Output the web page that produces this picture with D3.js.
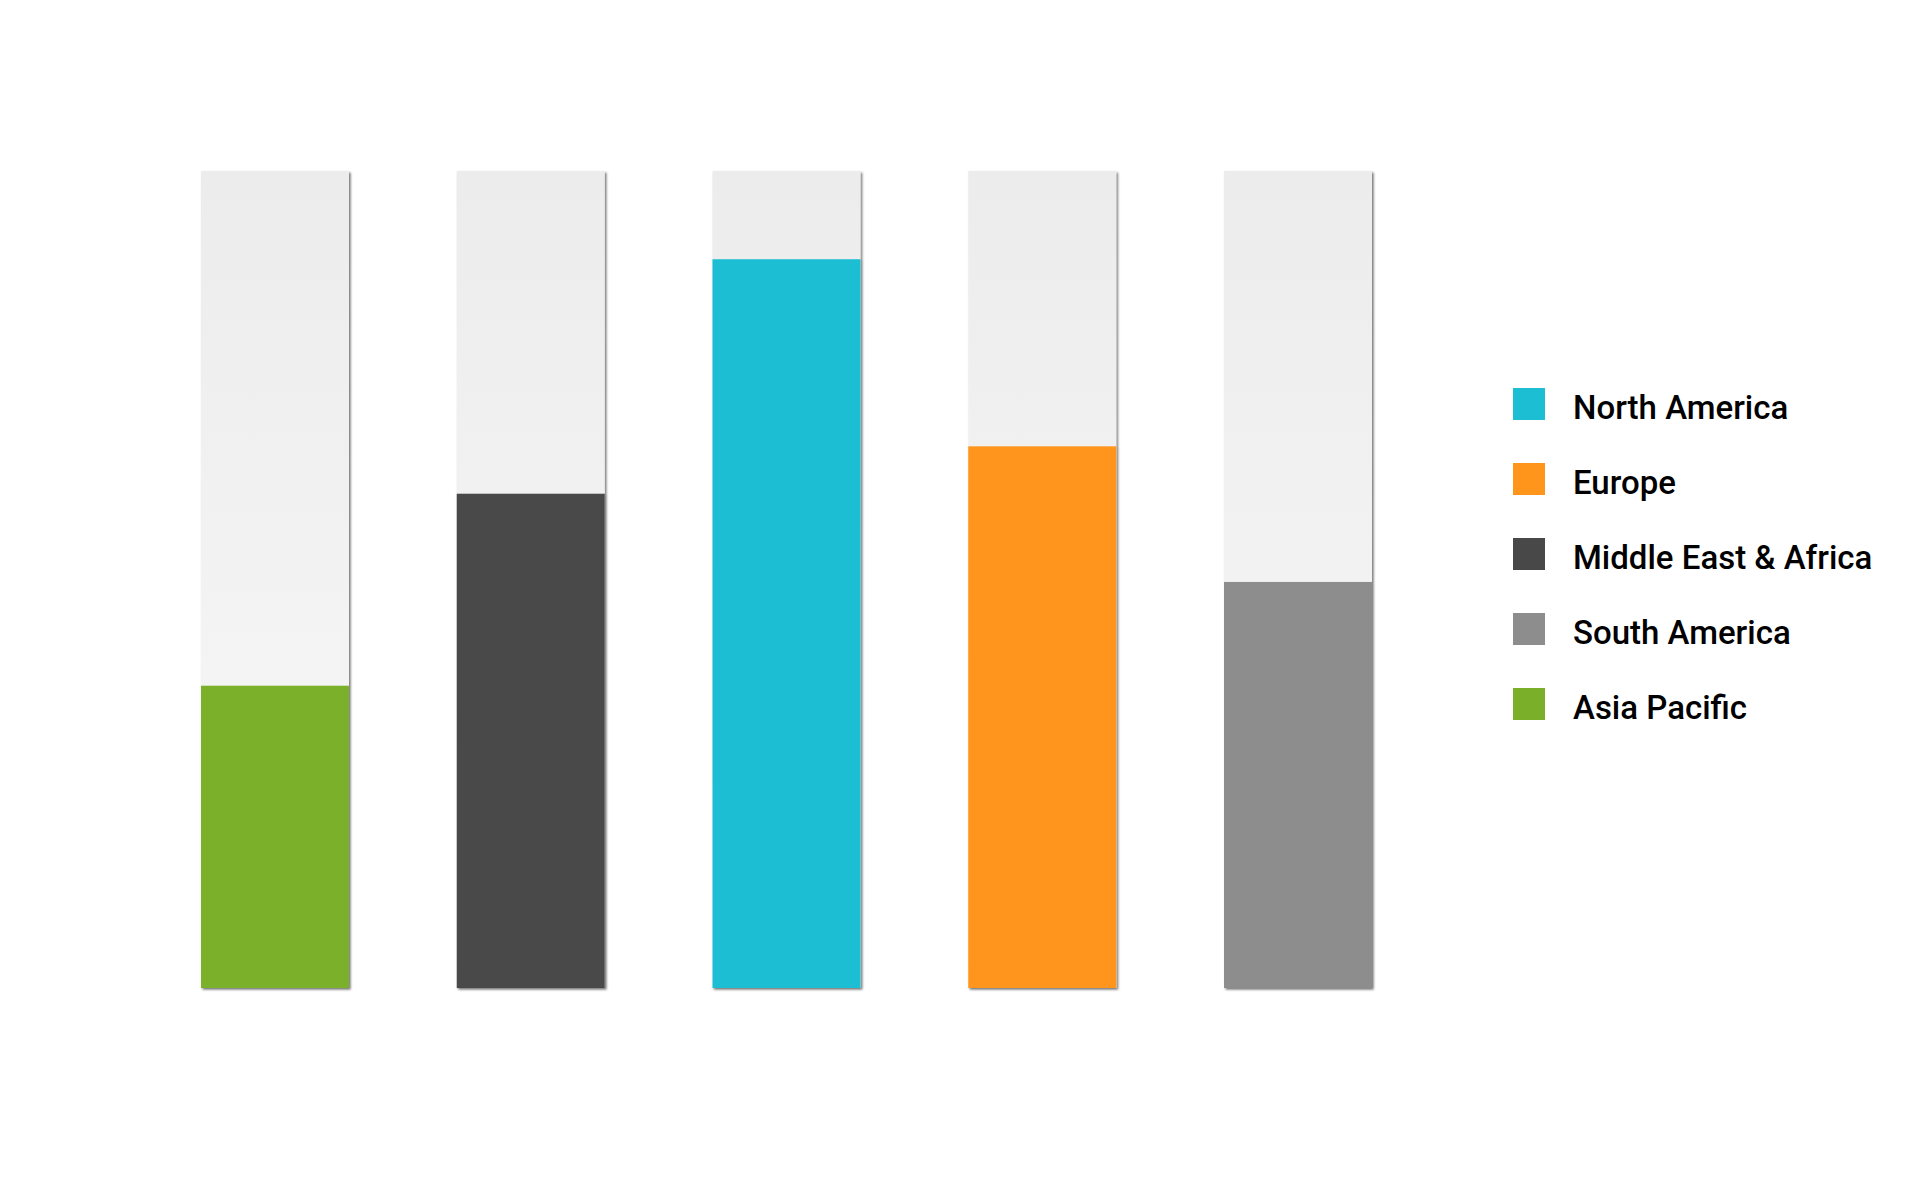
<!DOCTYPE html>
<html>
<head>
<meta charset="utf-8">
<script src="https://cdn.jsdelivr.net/npm/d3@7"></script>
<style>
  body { margin: 0; background: #fff; }
  svg { display: block; }
  .legend-label { font-family: Roboto, "Noto Sans", sans-serif; font-size: 33px; font-weight: 500; fill: #000; }
</style>
</head>
<body>
<div id="chart"></div>
<script>
// data //
const regions = ['Asia Pacific', 'Middle East & Africa', 'North America', 'Europe', 'South America']
const shares = [37, 60.5, 89.2, 66.3, 49.7]
const legendOrder = ['North America', 'Europe', 'Middle East & Africa', 'South America', 'Asia Pacific']
const regionColors = ['#7ab029', '#484848', '#1bbed3', '#ff951a', '#8d8d8d']

// svg //
const width = 1920
const height = 1200
const plot = { left: 201, right: 1372, top: 171, bottom: 988 }
const barWidth = 148
const legendX = 1513
const legendTop = 388
const legendStep = 75
const legendSize = 32
const legendTextOffset = 60

const svg = d3.select('#chart').append('svg')
  .attr('width', width)
  .attr('height', height)

const defs = svg.append('defs')

const grad = defs.append('linearGradient')
  .attr('id', 'track')
  .attr('x1', 0).attr('y1', 0)
  .attr('x2', 0).attr('y2', 1)
grad.append('stop').attr('offset', '0%').attr('stop-color', '#ececec')
grad.append('stop').attr('offset', '100%').attr('stop-color', '#f9f9f9')

const shadow = defs.append('filter')
  .attr('id', 'shadow')
  .attr('x', '-5%').attr('y', '-5%')
  .attr('width', '115%').attr('height', '115%')
shadow.append('feDropShadow')
  .attr('dx', 1.6)
  .attr('dy', 1.6)
  .attr('stdDeviation', 0.9)
  .attr('flood-color', '#000')
  .attr('flood-opacity', 0.55)

const x = d3.scalePoint()
  .domain(regions)
  .range([plot.left, plot.right - barWidth])

const y = d3.scaleLinear()
  .domain([0, 100])
  .range([plot.bottom, plot.top])

const color = d3.scaleOrdinal()
  .domain(regions)
  .range(regionColors)

const data = regions.map((r, i) => ({ region: r, value: shares[i] }))

// bars //
const bar = svg.append('g')
  .selectAll('g')
  .data(data)
  .enter()
  .append('g')
  .attr('transform', d => `translate(${x(d.region)}, 0)`)
  .attr('filter', 'url(#shadow)')

bar.append('rect')
  .attr('class', 'track')
  .attr('width', barWidth)
  .attr('y', y(100))
  .attr('height', y(0) - y(100))
  .attr('fill', 'url(#track)')

bar.append('rect')
  .attr('class', 'value')
  .attr('width', barWidth)
  .attr('y', d => y(d.value))
  .attr('height', d => y(0) - y(d.value))
  .attr('fill', d => color(d.region))

// legend //
const ly = d3.scalePoint()
  .domain(legendOrder)
  .range([legendTop, legendTop + legendStep * (legendOrder.length - 1)])

const legend = svg.append('g')
  .attr('id', 'legend')

const item = legend.selectAll('g')
  .data(legendOrder)
  .enter()
  .append('g')
  .attr('transform', d => `translate(${legendX}, ${ly(d)})`)

item.append('rect')
  .attr('width', legendSize)
  .attr('height', legendSize)
  .attr('fill', d => color(d))

item.append('text')
  .attr('class', 'legend-label')
  .attr('x', legendTextOffset)
  .attr('y', legendSize - 1)
  .text(d => d)
</script>
</body>
</html>
